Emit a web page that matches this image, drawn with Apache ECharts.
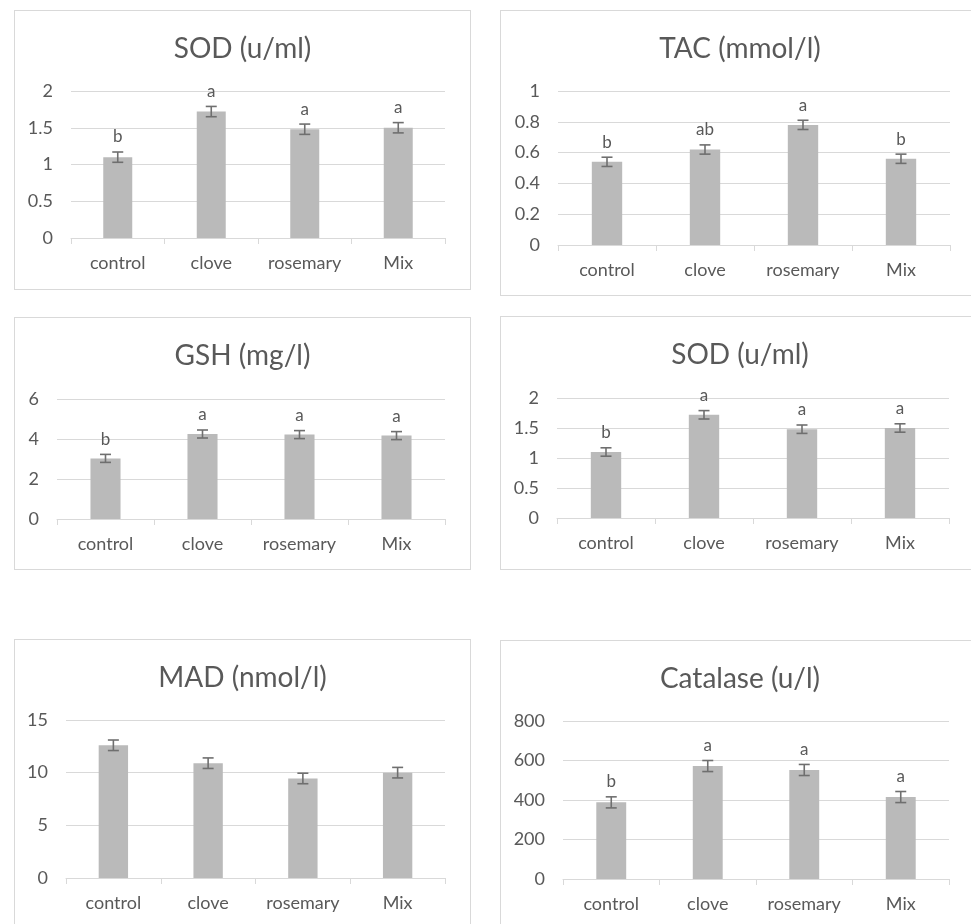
<!DOCTYPE html>
<html>
<head>
<meta charset="utf-8">
<script src="https://cdn.jsdelivr.net/npm/echarts@6/dist/echarts.min.js"></script>
<style>
    html, body { margin: 0; padding: 0; background: #fff; overflow: hidden; }
    .box { position: absolute; border: 1px solid #d9d9d9; background: #fff; box-sizing: border-box; }
</style>
</head>
<body>
<div class="box" id="p1" style="left:14px;top:10px;width:457px;height:280px;"></div>
<div class="box" id="p2" style="left:500px;top:10px;width:480px;height:286px;"></div>
<div class="box" id="p3" style="left:14px;top:317px;width:457px;height:253px;"></div>
<div class="box" id="p4" style="left:500px;top:316px;width:480px;height:254px;"></div>
<div class="box" id="p5" style="left:14px;top:639px;width:457px;height:300px;"></div>
<div class="box" id="p6" style="left:500px;top:640px;width:480px;height:300px;"></div>
<script>
    // categories
    var categories = ['control', 'clove', 'rosemary', 'Mix']

    // SOD (u/ml)
    var sodValues = [1.1, 1.72, 1.48, 1.5]
    var sodErrors = [0.07, 0.07, 0.07, 0.07]
    var sodLetters = ['b', 'a', 'a', 'a']
    var sodTicks = [0, 0.5, 1, 1.5, 2]

    // TAC (mmol/l)
    var tacValues = [0.54, 0.62, 0.78, 0.56]
    var tacErrors = [0.03, 0.03, 0.03, 0.03]
    var tacLetters = ['b', 'ab', 'a', 'b']
    var tacTicks = [0, 0.2, 0.4, 0.6, 0.8, 1]

    // GSH (mg/l)
    var gshValues = [3.03, 4.25, 4.22, 4.17]
    var gshErrors = [0.2, 0.2, 0.2, 0.2]
    var gshLetters = ['b', 'a', 'a', 'a']
    var gshTicks = [0, 2, 4, 6]

    // MAD (nmol/l)
    var madValues = [12.6, 10.9, 9.45, 10.0]
    var madErrors = [0.5, 0.5, 0.5, 0.5]
    var madLetters = ['', '', '', '']
    var madTicks = [0, 5, 10, 15]

    // Catalase (u/l)
    var catValues = [388, 572, 552, 415]
    var catErrors = [28, 28, 28, 28]
    var catLetters = ['b', 'a', 'a', 'a']
    var catTicks = [0, 200, 400, 600, 800]

    var FONT = 'Lato'
    var TEXT_COLOR = '#595959'

    var panels = [
        {id: 'p1', title: 'SOD (u/ml)', values: sodValues, errors: sodErrors, letters: sodLetters, ticks: sodTicks,
            grid: {left: 56, top: 80, width: 374, height: 147}},
        {id: 'p2', title: 'TAC (mmol/l)', values: tacValues, errors: tacErrors, letters: tacLetters, ticks: tacTicks,
            grid: {left: 57, top: 80, width: 392, height: 154}},
        {id: 'p3', title: 'GSH (mg/l)', values: gshValues, errors: gshErrors, letters: gshLetters, ticks: gshTicks,
            grid: {left: 42, top: 81, width: 388, height: 120}},
        {id: 'p4', title: 'SOD (u/ml)', values: sodValues, errors: sodErrors, letters: sodLetters, ticks: sodTicks,
            grid: {left: 56, top: 81, width: 392, height: 120}},
        {id: 'p5', title: 'MAD (nmol/l)', values: madValues, errors: madErrors, letters: madLetters, ticks: madTicks,
            grid: {left: 51, top: 80, width: 379, height: 158}},
        {id: 'p6', title: 'Catalase (u/l)', values: catValues, errors: catErrors, letters: catLetters, ticks: catTicks,
            grid: {left: 62, top: 80, width: 386, height: 158}}
    ]

    function drawPanel (p) {
        var chart = echarts.init(document.getElementById(p.id))
        var ticks = p.ticks
        var errData = p.values.map(function (v, i) { return [i, v, p.errors[i]] })
        chart.setOption({
            animation: false,
            title: {
                text: p.title,
                left: 'center',
                top: 19,
                textStyle: {fontFamily: FONT, fontSize: 28, fontWeight: 'normal', color: TEXT_COLOR}
            },
            grid: p.grid,
            xAxis: {
                type: 'category',
                data: categories,
                axisLine: {lineStyle: {color: '#d9d9d9', width: 1}},
                axisTick: {show: true, length: 6, lineStyle: {color: '#d9d9d9'}},
                axisLabel: {interval: 0, hideOverlap: false, fontFamily: FONT, fontSize: 18, color: TEXT_COLOR, margin: 16}
            },
            yAxis: {
                type: 'value',
                min: ticks[0],
                max: ticks[ticks.length - 1],
                interval: ticks[1] - ticks[0],
                axisLine: {show: false},
                axisTick: {show: false},
                splitLine: {lineStyle: {color: '#d9d9d9', width: 1}},
                axisLabel: {fontFamily: FONT, fontSize: 18, color: TEXT_COLOR, margin: 18}
            },
            series: [
                {
                    type: 'bar',
                    data: p.values,
                    barWidth: '31%',
                    itemStyle: {color: '#bababa'}
                },
                {
                    type: 'custom',
                    data: errData,
                    encode: {x: 0, y: [1, 2]},
                    z: 5,
                    renderItem: function (params, api) {
                        var idx = api.value(0)
                        var v = api.value(1)
                        var e = api.value(2)
                        var hi = api.coord([idx, v + e])
                        var lo = api.coord([idx, v - e])
                        var half = 5.5
                        var style = {stroke: '#6f6f6f', lineWidth: 1.6}
                        return {
                            type: 'group',
                            children: [
                                {type: 'line', shape: {x1: hi[0], y1: hi[1], x2: lo[0], y2: lo[1]}, style: style},
                                {type: 'line', shape: {x1: hi[0] - half, y1: hi[1], x2: hi[0] + half, y2: hi[1]}, style: style},
                                {type: 'line', shape: {x1: lo[0] - half, y1: lo[1], x2: lo[0] + half, y2: lo[1]}, style: style},
                                {
                                    type: 'text',
                                    style: {
                                        text: p.letters[params.dataIndex],
                                        x: hi[0],
                                        y: hi[1] - 15,
                                        align: 'center',
                                        verticalAlign: 'middle',
                                        fontFamily: FONT,
                                        fontSize: 17,
                                        fill: TEXT_COLOR
                                    }
                                }
                            ]
                        }
                    }
                }
            ]
        })
    }

    for (var i = 0; i < panels.length; i++) {
        drawPanel(panels[i])
    }
</script>
</body>
</html>
